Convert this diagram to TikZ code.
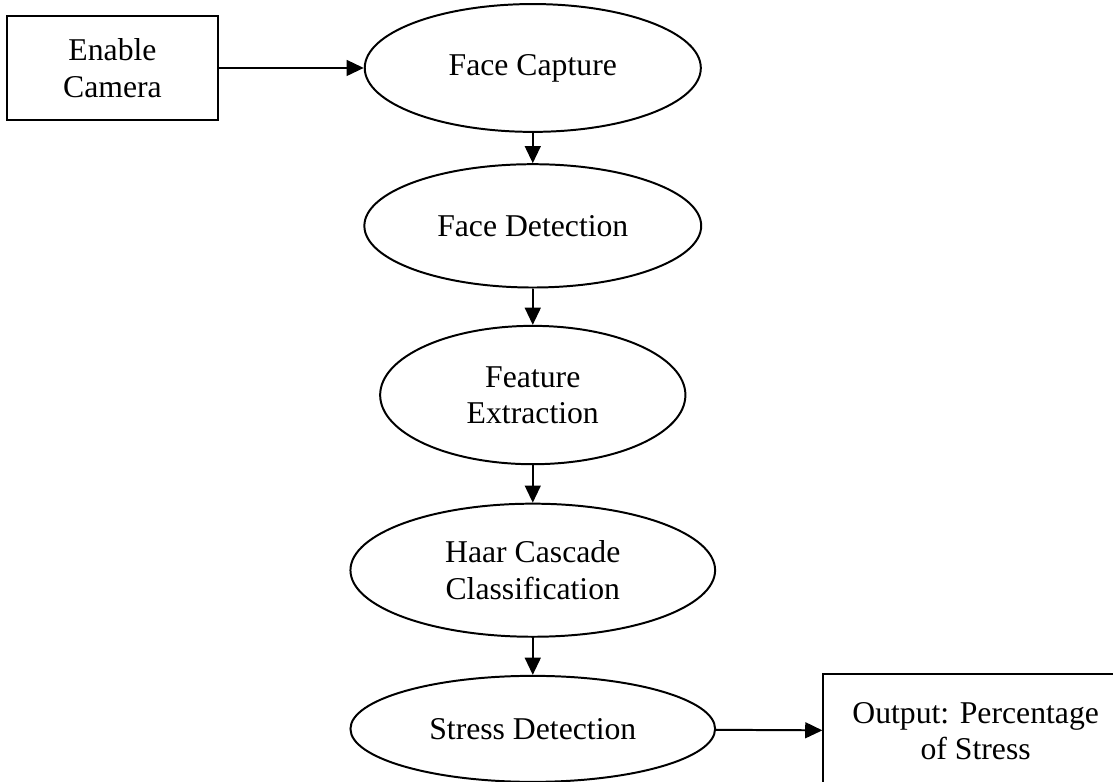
\documentclass[tikz,border=0pt]{standalone}
\usepackage{fontspec}
\setmainfont{Liberation Serif}
\usetikzlibrary{shapes.geometric,arrows.meta}

\tikzstyle{rect} = [rectangle, minimum width=2.81cm, minimum height=1.38cm, text centered, draw=black, align=center, line width=0.75pt]
\tikzstyle{oval} = [ellipse, minimum width=4.48cm, minimum height=1.64cm, inner sep=0pt, text centered, draw=black, align=center, line width=0.75pt]
\tikzstyle{arrow} = [line width=0.75pt,->,>={Triangle[length=6.5pt,width=6pt]}]

\begin{document}
\begin{tikzpicture}[node distance=2.2cm, font=\fontsize{12}{13.8}\selectfont]
\useasboundingbox (-1.496,0.904) rectangle (13.307,-9.496);

\node (camera) [rect] {Enable\\Camera};

\node (capture) [oval, node distance=5.59cm, right of=camera, minimum width=4.47cm, minimum height=1.70cm] {Face Capture};

\node (detection) [oval, below of=capture, yshift=0.1cm] {Face Detection};

\node (extraction) [oval, below of=detection, yshift=-0.05cm, minimum width=4.06cm, minimum height=1.84cm] {Feature\\Extraction};

\node (haar) [oval, below of=extraction, yshift=-0.13cm, minimum width=4.85cm, minimum height=1.77cm] {Haar Cascade\\Classification};

\node (stress) [oval, below of=haar, yshift=0.09cm, minimum width=4.85cm, minimum height=1.41cm] {Stress Detection};

\node (output) [rect, node distance=5.89cm, right of=stress, yshift=-0.03cm, minimum width=4.05cm, minimum height=1.53cm] {Output: Percentage\\of Stress};

\draw[arrow] (camera) -- (capture);
\draw[arrow] (capture) -- (detection);
\draw[arrow] (detection) -- (extraction);
\draw[arrow] (extraction) -- (haar);
\draw[arrow] (haar) -- (stress);
\draw[arrow] (stress) -- (output);

\end{tikzpicture}
\end{document}
